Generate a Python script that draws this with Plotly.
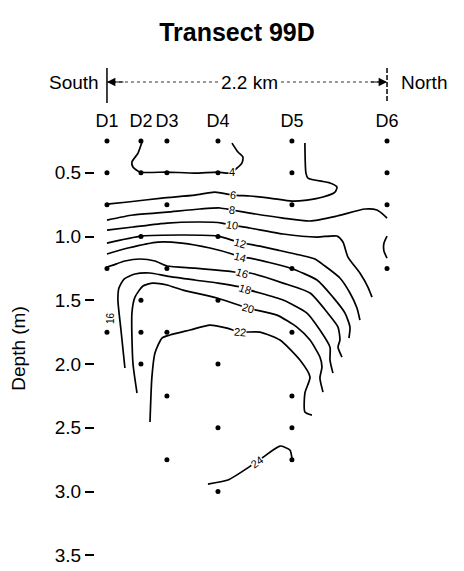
import plotly.graph_objects as go

# ---------------- data ----------------
stations = ["D1", "D2", "D3", "D4", "D5", "D6"]
station_km = [0.0, 0.267, 0.471, 0.872, 1.453, 2.2]

# sample depths (m) at each station
samples_D1 = [0.25, 0.5, 0.75, 1.25, 1.75]
samples_D2 = [0.25, 0.5, 1.0, 1.5, 1.75, 2.0]
samples_D3 = [0.25, 0.5, 0.75, 1.25, 1.75, 2.25, 2.75]
samples_D4 = [0.25, 0.5, 1.0, 1.5, 2.0, 2.5, 3.0]
samples_D5 = [0.25, 0.5, 0.75, 1.25, 1.75, 2.25, 2.5, 2.75]
samples_D6 = [0.25, 0.5, 0.75, 1.25]

# isotherm lines: distance (km), depth (m)
c4_x = [0.275, 0.244, 0.196, 0.204, 0.259, 0.471, 0.691, 0.872, 0.966, 1.060, 1.068, 1.029, 0.982]
c4_d = [0.259, 0.345, 0.416, 0.455, 0.494, 0.494, 0.502, 0.494, 0.502, 0.424, 0.376, 0.337, 0.267]

c6_x = [0.0, 0.165, 0.432, 0.691, 0.848, 0.990, 1.123, 1.280, 1.453, 1.571, 1.697, 1.791, 1.807, 1.752, 1.579, 1.563, 1.555]
c6_d = [0.745, 0.729, 0.698, 0.675, 0.651, 0.675, 0.682, 0.698, 0.722, 0.714, 0.690, 0.651, 0.612, 0.580, 0.541, 0.502, 0.267]

c8_x = [0.0, 0.204, 0.471, 0.731, 0.888, 0.982, 1.123, 1.383, 1.595, 1.807, 2.027, 2.121, 2.184, 2.200]
c8_d = [0.871, 0.831, 0.808, 0.784, 0.776, 0.792, 0.816, 0.855, 0.878, 0.839, 0.784, 0.792, 0.839, 0.855]

c10_x = [0.0, 0.204, 0.471, 0.731, 0.903, 0.982, 1.123, 1.383, 1.650, 1.807, 1.854, 1.893, 1.987, 2.050, 2.082]
c10_d = [0.949, 0.925, 0.894, 0.886, 0.894, 0.910, 0.933, 0.980, 1.004, 0.996, 1.043, 1.161, 1.286, 1.396, 1.475]

c12_x = [0.0, 0.275, 0.872, 1.029, 1.202, 1.343, 1.516, 1.634, 1.712, 1.830, 1.909, 1.964, 1.987]
c12_d = [1.051, 0.996, 0.996, 1.043, 1.075, 1.106, 1.145, 1.176, 1.231, 1.325, 1.443, 1.561, 1.655]

c14_x = [0.0, 0.165, 0.401, 0.589, 0.809, 0.982, 1.045, 1.123, 1.437, 1.650, 1.775, 1.870, 1.909, 1.901]
c14_d = [1.137, 1.090, 1.043, 1.051, 1.090, 1.137, 1.161, 1.169, 1.247, 1.341, 1.475, 1.600, 1.710, 1.796]

c16_x = [0.0, 0.047, 0.141, 0.259, 0.377, 0.471, 0.691, 0.950, 1.060, 1.123, 1.383, 1.595, 1.728, 1.815, 1.830, 1.815, 1.846]
c16_d = [1.239, 1.224, 1.192, 1.176, 1.192, 1.231, 1.247, 1.271, 1.286, 1.286, 1.365, 1.443, 1.592, 1.710, 1.812, 1.867, 1.945]

c18_x = [0.141, 0.110, 0.086, 0.094, 0.134, 0.220, 0.338, 0.471, 0.691, 0.872, 1.084, 1.123, 1.383, 1.571, 1.673, 1.752, 1.752, 1.775]
c18_d = [2.031, 1.733, 1.498, 1.404, 1.333, 1.294, 1.286, 1.310, 1.341, 1.365, 1.404, 1.420, 1.498, 1.600, 1.733, 1.867, 1.969, 2.071]

c20_x = [0.236, 0.204, 0.196, 0.220, 0.283, 0.361, 0.471, 0.597, 0.864, 1.108, 1.335, 1.492, 1.595, 1.673, 1.689, 1.673, 1.697]
c20_d = [2.227, 1.992, 1.600, 1.475, 1.388, 1.365, 1.380, 1.420, 1.482, 1.561, 1.616, 1.710, 1.812, 1.945, 2.023, 2.110, 2.220]

c22_x = [0.338, 0.353, 0.377, 0.432, 0.495, 0.652, 0.809, 0.943, 1.045, 1.202, 1.359, 1.516, 1.595, 1.555, 1.555, 1.610]
c22_d = [2.455, 2.102, 1.914, 1.796, 1.772, 1.733, 1.694, 1.718, 1.749, 1.749, 1.812, 1.969, 2.102, 2.227, 2.376, 2.400]

c24_x = [0.793, 0.950, 1.139, 1.218, 1.359, 1.437, 1.453]
c24_d = [2.941, 2.910, 2.792, 2.737, 2.643, 2.674, 2.737]

arc_x = [2.200, 2.176, 2.176, 2.200]
arc_d = [0.996, 1.051, 1.114, 1.169]

contour_levels = ["4", "6", "8", "10", "12", "14", "16", "18", "20", "22", "24"]
label_x = [0.982, 0.990, 0.982, 0.982, 1.045, 1.045, 1.060, 1.084, 1.108, 1.045, 1.178]
label_d = [0.494, 0.675, 0.792, 0.910, 1.051, 1.161, 1.286, 1.412, 1.561, 1.749, 2.769]
label_angle = [0, 8, 8, 8, 15, 15, 18, 18, 15, 5, -35]

side_label_x = 0.024
side_label_d = 1.639
side_label_text = "16"

y_ticks = [0.5, 1.0, 1.5, 2.0, 2.5, 3.0, 3.5]
y_ticktext = ["0.5", "1.0", "1.5", "2.0", "2.5", "3.0", "3.5"]
transect_length = "2.2 km"

# ---------------- figure ----------------
FONT = "Liberation Sans, Arial, sans-serif"
OFF = 8                      # page body margin of the browser
W, H = 464 - OFF, 571 - OFF
fig = go.Figure()

lines = [(c4_x, c4_d), (c6_x, c6_d), (c8_x, c8_d), (c10_x, c10_d), (c12_x, c12_d),
         (c14_x, c14_d), (c16_x, c16_d), (c18_x, c18_d), (c20_x, c20_d),
         (c22_x, c22_d), (c24_x, c24_d), (arc_x, arc_d)]
for xs, ds in lines:
    fig.add_trace(go.Scatter(x=xs, y=ds, mode="lines",
                             line=dict(color="black", width=1.7, shape="spline", smoothing=0.6),
                             hoverinfo="skip", showlegend=False))

all_samples = [samples_D1, samples_D2, samples_D3, samples_D4, samples_D5, samples_D6]
px, pd_ = [], []
for km, depths in zip(station_km, all_samples):
    for d in depths:
        px.append(km)
        pd_.append(d)
fig.add_trace(go.Scatter(x=px, y=pd_, mode="markers", marker=dict(color="black", size=5),
                         showlegend=False, hoverinfo="skip"))

annotations = []
for t, x, d, a in zip(contour_levels, label_x, label_d, label_angle):
    annotations.append(dict(x=x, y=d, xref="x", yref="y", text=t, showarrow=False,
                            textangle=a, font=dict(family=FONT, size=11, color="black"),
                            bgcolor="white", borderpad=0))
annotations.append(dict(x=side_label_x, y=side_label_d, xref="x", yref="y", text=side_label_text,
                        showarrow=False, textangle=-90, font=dict(family=FONT, size=10, color="black")))

# header decorations (screen pixel rows converted to paper fractions)
plot_top, plot_bottom = 132 - OFF, 565 - OFF
def py(pix):
    return (plot_bottom - (pix - OFF)) / (plot_bottom - plot_top)

y_arrow = py(82)
annotations += [
    dict(x=station_km[0], y=y_arrow, xref="x", yref="paper", text="South", showarrow=False,
         xanchor="right", yanchor="middle", xshift=-6, font=dict(family=FONT, size=19, color="black")),
    dict(x=station_km[-1], y=y_arrow, xref="x", yref="paper", text="North", showarrow=False,
         xanchor="left", yanchor="middle", xshift=12, font=dict(family=FONT, size=19, color="black")),
    dict(x=station_km[0], y=y_arrow, xref="x", yref="paper", text="", showarrow=True,
         ax=18, ay=0, axref="pixel", ayref="pixel", arrowhead=2, arrowsize=1.4, arrowwidth=1.2,
         arrowcolor="black", standoff=0),
    dict(x=station_km[-1], y=y_arrow, xref="x", yref="paper", text="", showarrow=True,
         ax=-18, ay=0, axref="pixel", ayref="pixel", arrowhead=2, arrowsize=1.4, arrowwidth=1.2,
         arrowcolor="black", standoff=0),
    dict(x=1.123, y=y_arrow, xref="x", yref="paper", text=transect_length, showarrow=False,
         yanchor="middle", bgcolor="white", borderpad=0, font=dict(family=FONT, size=19, color="black")),
]

shapes = [
    dict(type="line", xref="x", yref="paper", x0=station_km[0], x1=station_km[-1], y0=y_arrow, y1=y_arrow,
         line=dict(color="#333", width=1, dash="dot")),
    dict(type="line", xref="x", yref="paper", x0=station_km[0], x1=station_km[0], y0=py(68), y1=py(103),
         line=dict(color="black", width=1.5)),
    dict(type="line", xref="x", yref="paper", x0=station_km[-1], x1=station_km[-1], y0=py(68), y1=py(103),
         line=dict(color="black", width=1.5, dash="5px,2px")),
]

fig.update_layout(
    width=W, height=H,
    margin=dict(l=95 - OFF, r=W - (400 - OFF), t=plot_top, b=H - plot_bottom, pad=0, autoexpand=False),
    paper_bgcolor="white", plot_bgcolor="white",
    title=dict(text="<b>Transect 99D</b>", x=(237 - OFF) / W, xanchor="center",
               y=1 - (32 - OFF) / H, yanchor="middle",
               font=dict(family=FONT, size=25, color="black")),
    xaxis=dict(range=[-0.094, 2.302], side="top", tickvals=station_km, ticktext=stations,
               showgrid=False, zeroline=False, showline=False, ticks="", tickangle=0, automargin=False,
               tickfont=dict(family=FONT, size=18, color="black")),
    yaxis=dict(range=[3.576, 0.18], tickvals=y_ticks, ticktext=y_ticktext, showgrid=False, zeroline=False,
               showline=False, ticks="outside", ticklen=9, tickwidth=1.5, tickcolor="black", automargin=False,
               tickfont=dict(family=FONT, size=19, color="black"),
               title=dict(text="Depth (m)", standoff=25, font=dict(family=FONT, size=19, color="black"))),
    annotations=annotations,
    shapes=shapes,
    font=dict(family=FONT),
)

fig.write_html("out.html")
